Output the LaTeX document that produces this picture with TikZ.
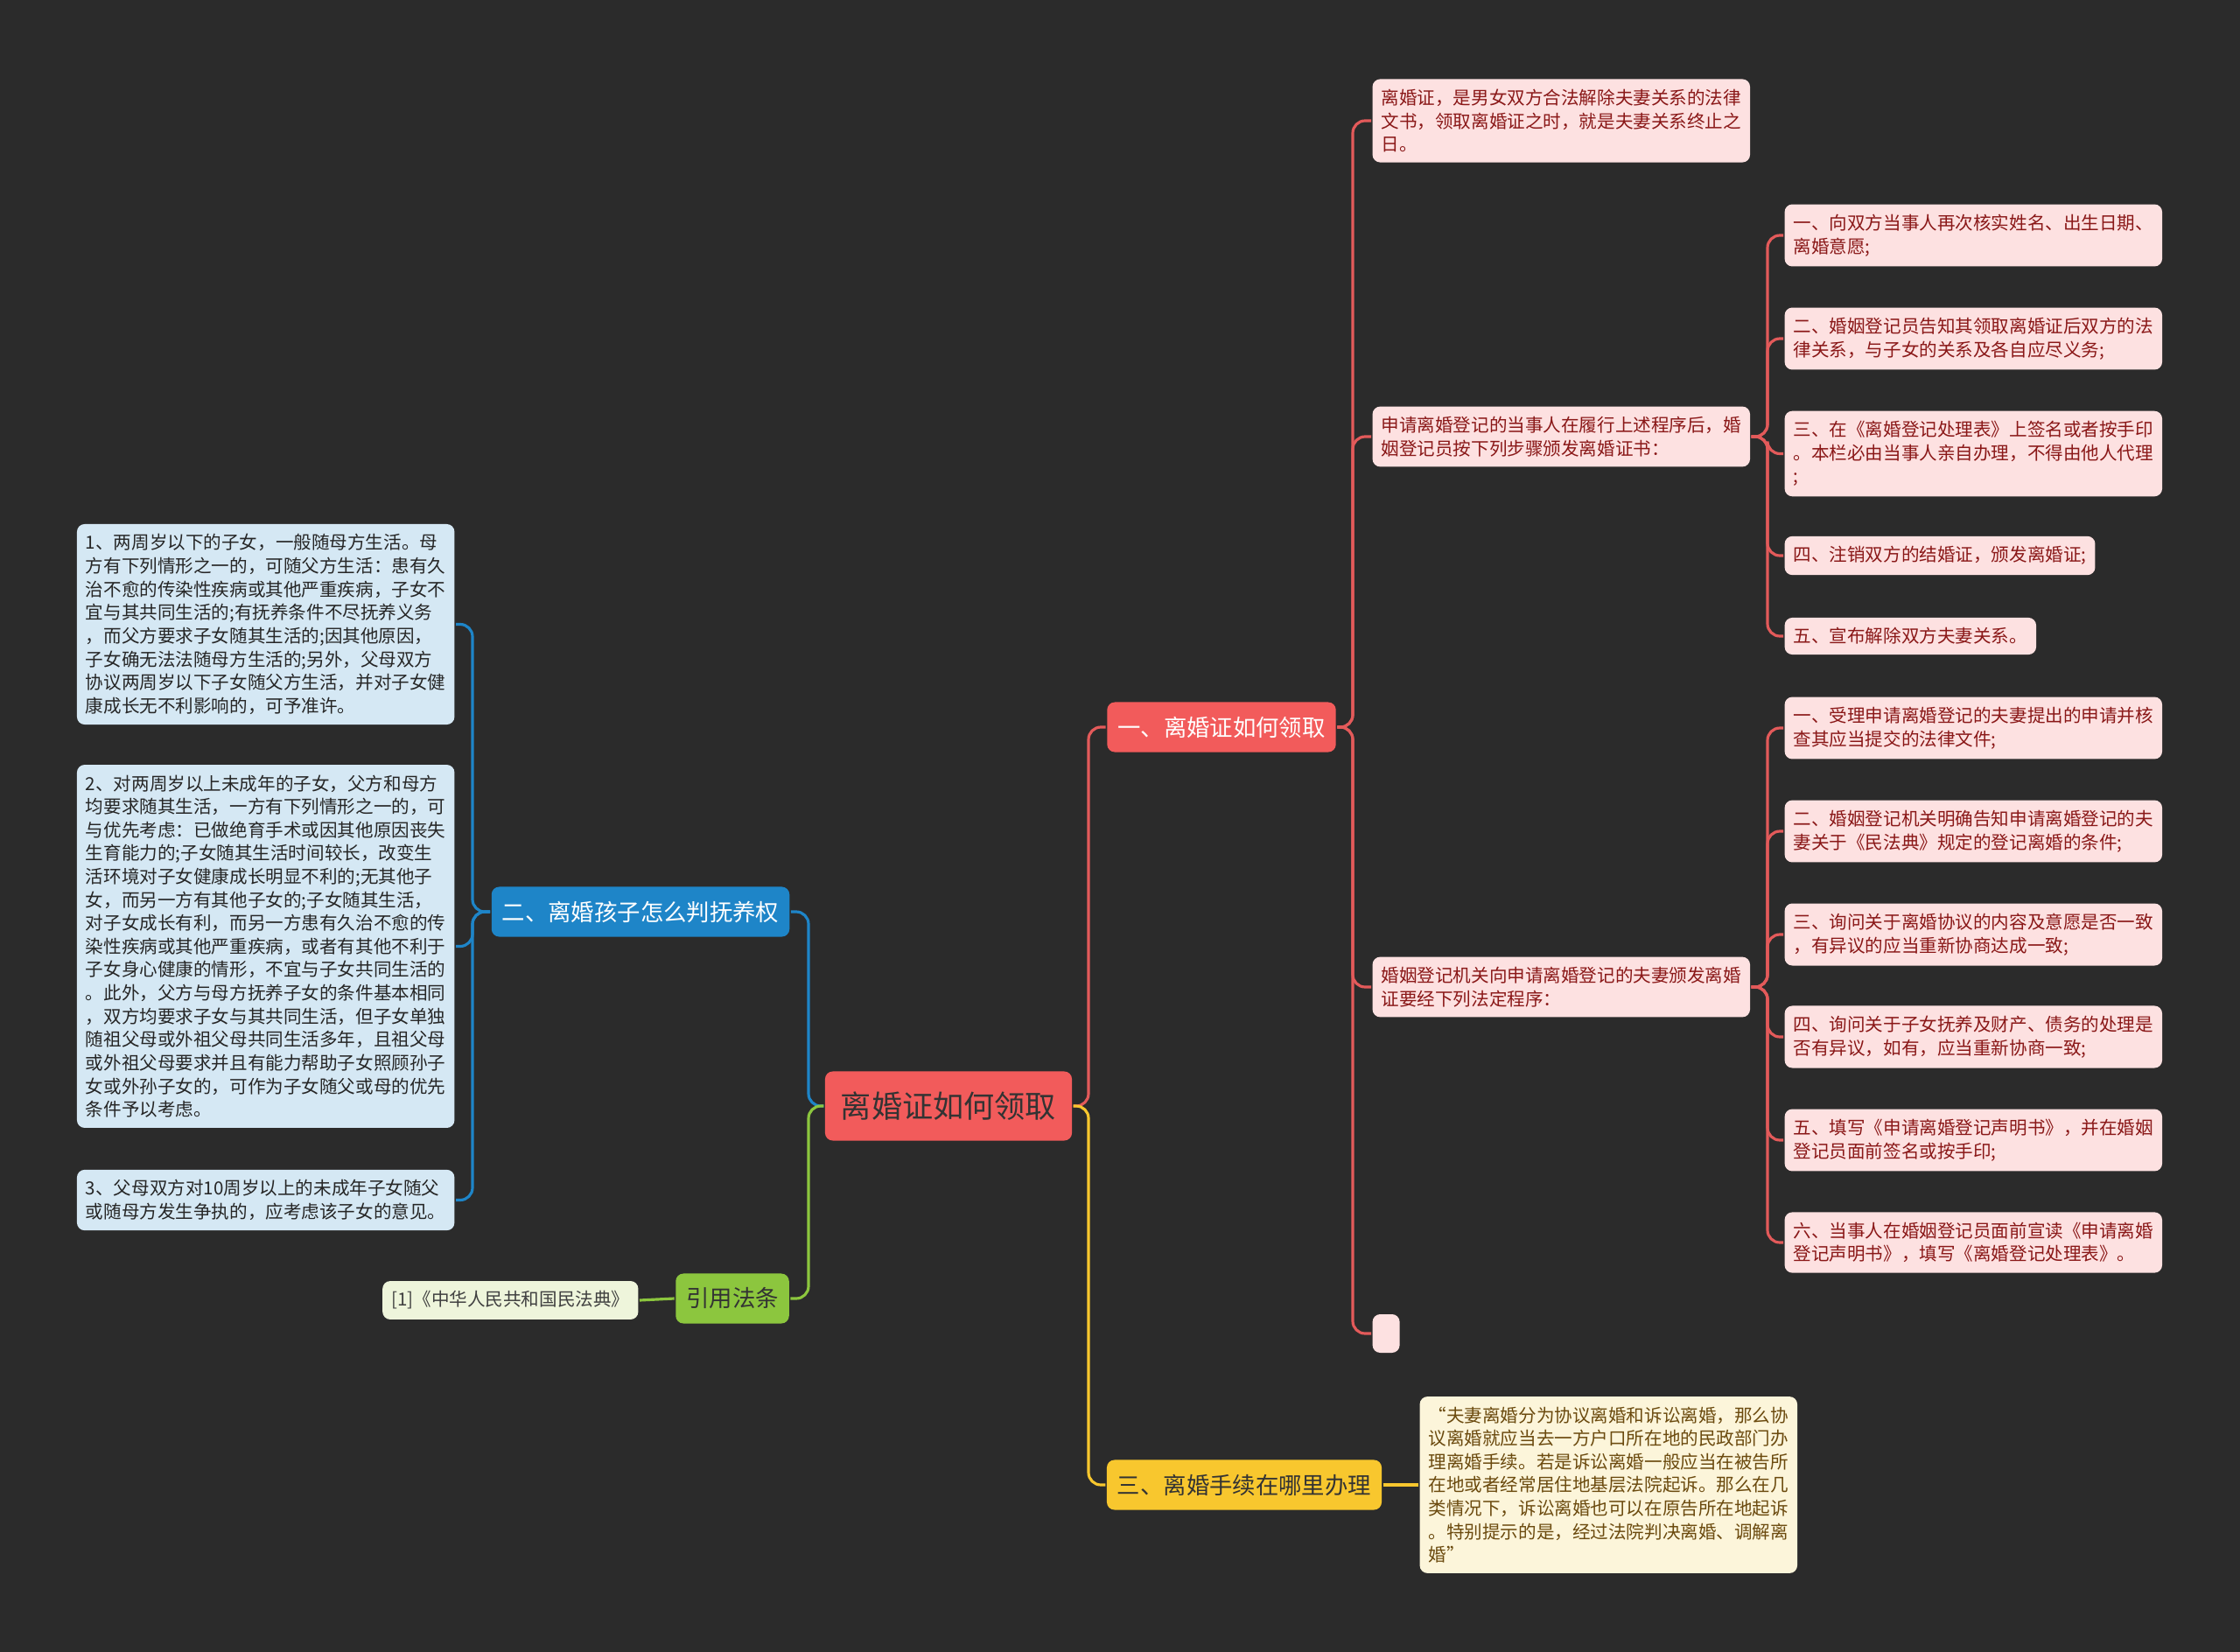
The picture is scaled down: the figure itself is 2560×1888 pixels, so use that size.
\documentclass[tikz,border=0pt]{standalone}
\usepackage{fontspec}
\setmainfont{Noto Sans CJK SC}
\usetikzlibrary{positioning}
\definecolor{cbg}{HTML}{2B2B2B}
\definecolor{cred}{HTML}{F25B5B}
\definecolor{credline}{HTML}{E35A5A}
\definecolor{cpink}{HTML}{FDE1E1}
\definecolor{cmaroon}{HTML}{8A1818}
\definecolor{cblue}{HTML}{1E85C8}
\definecolor{cbluelight}{HTML}{D5E8F4}
\definecolor{cgreen}{HTML}{8CC63E}
\definecolor{cgreenlight}{HTML}{EEF5DB}
\definecolor{cyellow}{HTML}{F8C72E}
\definecolor{cyellowlight}{HTML}{FCF5DA}
\definecolor{cbrown}{HTML}{6B4A0E}
\tikzset{
  every picture/.style={line width=0.9pt},
  root/.style={fill=cred, text=black!80, rounded corners=2.5pt, inner xsep=0.18cm, minimum height=0.79cm, font=\fontsize{10}{12}\selectfont},
  topic/.style={fill=#1, rounded corners=2.5pt, inner xsep=0.12cm, minimum height=0.57cm, font=\fontsize{7.5}{9}\selectfont},
  leaf/.style={fill=#1, rounded corners=2.5pt, align=left, inner xsep=0.1cm, inner ysep=0.115cm, font=\fontsize{5.85}{7.57}\selectfont},
  link/.style={draw=#1, line width=0.9pt, rounded corners=4pt},
}

\begin{document}
\begin{tikzpicture}[x=0.01cm, y=-0.01cm]
  \useasboundingbox (0,0) rectangle (2560,1888);
  \fill[cbg] (0,0) rectangle (2560,1888);

  % centre and main topics
  \node[root] (root) at (1084,1264) {离婚证如何领取};
  \node[topic=cred, text=white] (get) at (1396,831) {一、离婚证如何领取};
  \node[topic=cblue, text=white] (kids) at (732,1042) {二、离婚孩子怎么判抚养权};
  \node[topic=cgreen, text=black!80] (law) at (837,1484) {引用法条};
  \node[topic=cyellow, text=black!80] (where) at (1422,1697) {三、离婚手续在哪里办理};

  \coordinate (tr) at (1244,1264);
  \coordinate (tl) at (924,1264);
  \draw[link=credline] (root.east) -- (tr) |- (get.west);
  \draw[link=cyellow] (root.east) -- (tr) |- (where.west);
  \draw[link=cblue] (root.west) -- (tl) |- (kids.east);
  \draw[link=cgreen] (root.west) -- (tl) |- (law.east);

  % first topic
  \node[leaf=cpink, text=cmaroon, anchor=west] (cert) at (1567,138) {离婚证，是男女双方合法解除夫妻关系的法律\\文书，领取离婚证之时，就是夫妻关系终止之\\日。};
  \node[leaf=cpink, text=cmaroon, anchor=west] (issue) at (1567,499) {申请离婚登记的当事人在履行上述程序后，婚\\姻登记员按下列步骤颁发离婚证书：};
  \node[leaf=cpink, text=cmaroon, anchor=west] (proc) at (1567,1128) {婚姻登记机关向申请离婚登记的夫妻颁发离婚\\证要经下列法定程序：};
  \node[leaf=cpink, anchor=west, minimum width=0.31cm, minimum height=0.44cm] (blank) at (1567,1524) {};

  \coordinate (t1) at (1546,831);
  \foreach \n in {cert, issue, proc, blank}
    \draw[link=credline] (get.east) -- (t1) |- (\n.west);

  \coordinate (t2) at (2020,499);
  \foreach \n/\y/\txt in {s1/269/{一、向双方当事人再次核实姓名、出生日期、\\离婚意愿;},
                          s2/387/{二、婚姻登记员告知其领取离婚证后双方的法\\律关系，与子女的关系及各自应尽义务;},
                          s3/518.5/{三、在《离婚登记处理表》上签名或者按手印\\。本栏必由当事人亲自办理，不得由他人代理\\;},
                          s4/635/{四、注销双方的结婚证，颁发离婚证;},
                          s5/727/{五、宣布解除双方夫妻关系。}} {
    \node[leaf=cpink, text=cmaroon, anchor=west] (\n) at (2038,\y) {\txt};
    \draw[link=credline] (issue.east) -- (t2) |- (\n.west);
  }

  \coordinate (t3) at (2020,1128);
  \foreach \n/\y/\txt in {p1/832/{一、受理申请离婚登记的夫妻提出的申请并核\\查其应当提交的法律文件;},
                          p2/950/{二、婚姻登记机关明确告知申请离婚登记的夫\\妻关于《民法典》规定的登记离婚的条件;},
                          p3/1068/{三、询问关于离婚协议的内容及意愿是否一致\\，有异议的应当重新协商达成一致;},
                          p4/1185/{四、询问关于子女抚养及财产、债务的处理是\\否有异议，如有，应当重新协商一致;},
                          p5/1303/{五、填写《申请离婚登记声明书》，并在婚姻\\登记员面前签名或按手印;},
                          p6/1420/{六、当事人在婚姻登记员面前宣读《申请离婚\\登记声明书》，填写《离婚登记处理表》。}} {
    \node[leaf=cpink, text=cmaroon, anchor=west] (\n) at (2038,\y) {\txt};
    \draw[link=credline] (proc.east) -- (t3) |- (\n.west);
  }

  % second topic
  \node[leaf=cbluelight, text=black!85, anchor=east] (under2) at (521,713.5) {1、两周岁以下的子女，一般随母方生活。母\\方有下列情形之一的，可随父方生活：患有久\\治不愈的传染性疾病或其他严重疾病，子女不\\宜与其共同生活的;有抚养条件不尽抚养义务\\，而父方要求子女随其生活的;因其他原因，\\子女确无法法随母方生活的;另外，父母双方\\协议两周岁以下子女随父方生活，并对子女健\\康成长无不利影响的，可予准许。};
  \node[leaf=cbluelight, text=black!85, anchor=east] (over2) at (521,1081.5) {2、对两周岁以上未成年的子女，父方和母方\\均要求随其生活，一方有下列情形之一的，可\\与优先考虑：已做绝育手术或因其他原因丧失\\生育能力的;子女随其生活时间较长，改变生\\活环境对子女健康成长明显不利的;无其他子\\女，而另一方有其他子女的;子女随其生活，\\对子女成长有利，而另一方患有久治不愈的传\\染性疾病或其他严重疾病，或者有其他不利于\\子女身心健康的情形，不宜与子女共同生活的\\。此外，父方与母方抚养子女的条件基本相同\\，双方均要求子女与其共同生活，但子女单独\\随祖父母或外祖父母共同生活多年，且祖父母\\或外祖父母要求并且有能力帮助子女照顾孙子\\女或外孙子女的，可作为子女随父或母的优先\\条件予以考虑。};
  \node[leaf=cbluelight, text=black!85, anchor=east] (over10) at (521,1371.5) {3、父母双方对10周岁以上的未成年子女随父\\或随母方发生争执的，应考虑该子女的意见。};

  \coordinate (t4) at (540,1042);
  \foreach \n in {under2, over2, over10}
    \draw[link=cblue] (kids.west) -- (t4) |- (\n.east);

  % cited law
  \node[leaf=cgreenlight, text=black!75, anchor=east] (code) at (731,1486) {[1]《中华人民共和国民法典》};
  \draw[link=cgreen] (law.west) -- (code.east);

  % third topic
  \node[leaf=cyellowlight, text=cbrown, anchor=west] (court) at (1621,1697) {“夫妻离婚分为协议离婚和诉讼离婚，那么协\\议离婚就应当去一方户口所在地的民政部门办\\理离婚手续。若是诉讼离婚一般应当在被告所\\在地或者经常居住地基层法院起诉。那么在几\\类情况下，诉讼离婚也可以在原告所在地起诉\\。特别提示的是，经过法院判决离婚、调解离\\婚”};
  \draw[link=cyellow] (where.east) -- (court.west);
\end{tikzpicture}
\end{document}
